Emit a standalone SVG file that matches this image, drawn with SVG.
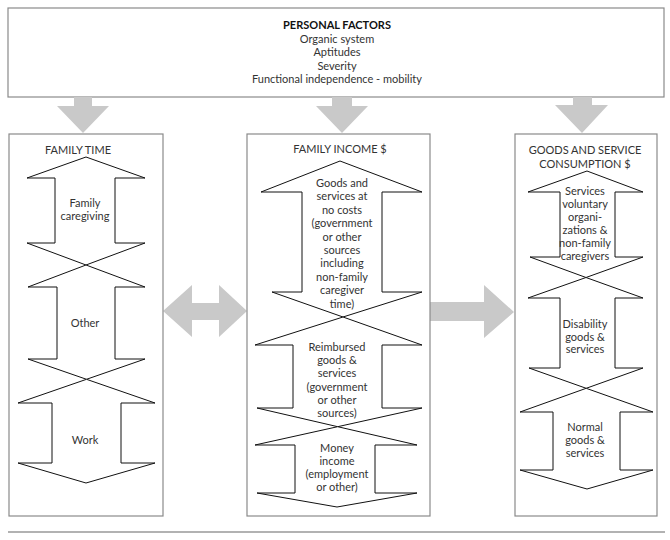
<svg xmlns="http://www.w3.org/2000/svg" width="670" height="540" viewBox="0 0 670 540">
<style>
.box{fill:#fff;stroke:#8a8a8a;stroke-width:1.2}
.sh{fill:#fff;stroke:#111;stroke-width:1}
.ga{fill:#c9c9c9;stroke:none}
text{font-family:Lato,"Liberation Sans",sans-serif;font-size:11px;fill:#333;text-anchor:middle}
.b{font-weight:bold;fill:#111}
</style>
<rect width="670" height="540" fill="#fff"/>
<g id="personal-factors">
<rect class="box" x="8" y="8" width="656" height="89"/>
<text class="b" x="337" y="29">PERSONAL FACTORS</text>
<text x="337" y="42.5">Organic system</text>
<text x="337" y="56">Aptitudes</text>
<text x="337" y="69.5">Severity</text>
<text x="337" y="83">Functional independence - mobility</text>
</g>
<g id="connectors">
<path class="ga" d="M74,97 L92,97 L92,106 L109,106 L83,133 L57,106 L74,106 Z"/>
<path class="ga" d="M332,97 L352,97 L352,106 L368,106 L342,133 L316,106 L332,106 Z"/>
<path class="ga" d="M573,97 L592,97 L592,105 L608,105 L582,133 L555,105 L573,105 Z"/>
<path class="ga" d="M163,311 L192,285 L192,303 L219,303 L219,285 L247,311 L219,337 L219,320 L192,320 L192,337 Z"/>
<path class="ga" d="M430,302 L484,302 L484,285 L514,312 L484,338 L484,321 L430,321 Z"/>
</g>
<g id="family-time">
<rect class="box" x="9" y="134" width="154" height="382"/>
<text x="78" y="154">FAMILY TIME</text>
<path class="sh" d="M27,178 L86,157 L145,178 L115,178 L115,243 L145,243 L86,265 L27,243 L55,243 L55,178 Z"/>
<path class="sh" d="M28,287 L86,265 L145,287 L115,287 L115,359 L145,359 L86.5,379.3 L28,359 L57,359 L57,287 Z"/>
<path class="sh" d="M18,403 L86.5,379.3 L155,403 L121,403 L121,463 L155,463 L86,483 L18,463 L52,463 L52,403 Z"/>
<text x="85" y="207">Family</text>
<text x="85" y="219.5">caregiving</text>
<text x="85" y="327">Other</text>
<text x="85" y="444">Work</text>
</g>
<g id="family-income">
<rect class="box" x="247" y="134" width="183" height="382"/>
<text x="340" y="153">FAMILY INCOME $</text>
<path class="sh" d="M261,192 L340,161 L422,192 L382,192 L382,292 L422,292 L343,317 L272,292 L302,292 L302,192 Z"/>
<path class="sh" d="M255,345 L343,317 L422,345 L382,345 L382,408 L422,408 L337.7,426.7 L257,408 L293,408 L293,345 Z"/>
<path class="sh" d="M255,445 L337.7,426.7 L417,445 L375,445 L375,493 L417,493 L337,507 L257,493 L295,493 L295,445 Z"/>
<text x="342" y="187">Goods and</text>
<text x="342" y="200.4">services at</text>
<text x="342" y="213.8">no costs</text>
<text x="342" y="227.2">(government</text>
<text x="342" y="240.6">or other</text>
<text x="342" y="254">sources</text>
<text x="342" y="267.4">including</text>
<text x="342" y="280.8">non-family</text>
<text x="342" y="294.2">caregiver</text>
<text x="342" y="307.6">time)</text>
<text x="337" y="351">Reimbursed</text>
<text x="337" y="364.2">goods &amp;</text>
<text x="337" y="377.4">services</text>
<text x="337" y="390.6">(government</text>
<text x="337" y="403.8">or other</text>
<text x="337" y="417">sources)</text>
<text x="337" y="452">Money</text>
<text x="337" y="465">income</text>
<text x="337" y="478">(employment</text>
<text x="337" y="491">or other)</text>
</g>
<g id="goods-consumption">
<rect class="box" x="515" y="134" width="142" height="382"/>
<text x="585" y="154">GOODS AND SERVICE</text>
<text x="585" y="168">CONSUMPTION $</text>
<path class="sh" d="M528,192 L587,171 L643,192 L615,192 L615,257 L643,257 L586,277.5 L530,257 L560,257 L560,192 Z"/>
<path class="sh" d="M528,298 L586,277.5 L643,298 L615,298 L615,368 L643,368 L586.2,388.3 L529,368 L560,368 L560,298 Z"/>
<path class="sh" d="M520,412 L586.2,388.3 L653,412 L620,412 L620,470 L653,470 L587,489 L520,470 L553,470 L553,412 Z"/>
<text x="585" y="195">Services</text>
<text x="585" y="208">voluntary</text>
<text x="585" y="221">organi-</text>
<text x="585" y="234">zations &amp;</text>
<text x="585" y="247">non-family</text>
<text x="585" y="260">caregivers</text>
<text x="585" y="328">Disability</text>
<text x="585" y="340.5">goods &amp;</text>
<text x="585" y="353">services</text>
<text x="585" y="431">Normal</text>
<text x="585" y="444">goods &amp;</text>
<text x="585" y="457">services</text>
</g>
<line x1="8" y1="532" x2="665" y2="532" stroke="#666" stroke-width="1.2"/>
</svg>
